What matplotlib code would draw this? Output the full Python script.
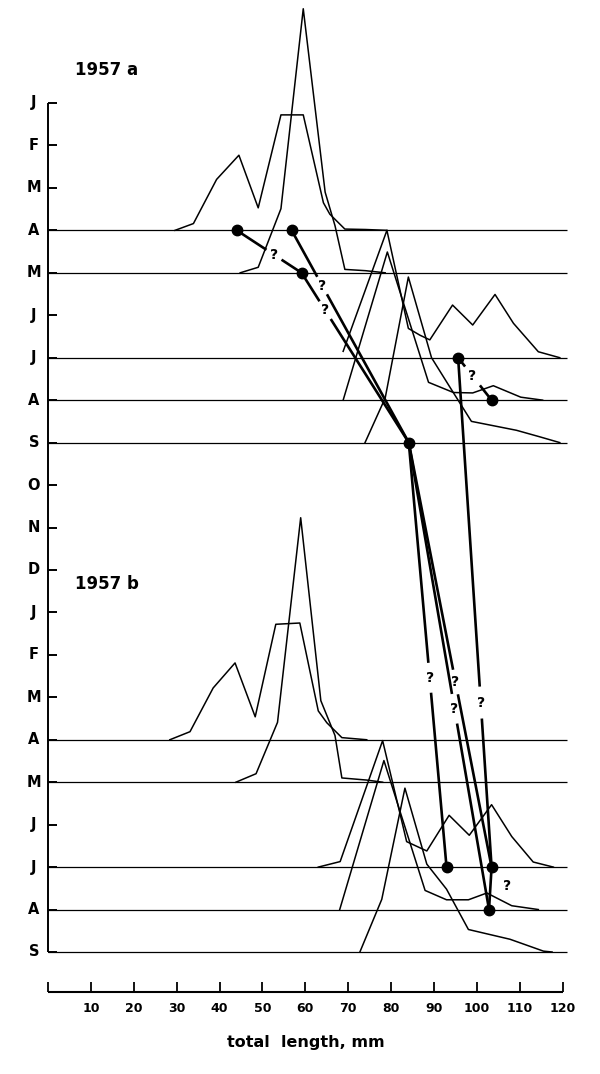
import numpy as np
import matplotlib.pyplot as plt

# month rows, top to bottom (1957a: J..S, then on into 1957b)
months = ['J', 'F', 'M', 'A', 'M', 'J', 'J', 'A', 'S', 'O', 'N',
          'D', 'J', 'F', 'M', 'A', 'M', 'J', 'J', 'A', 'S']
length_ticks = [10, 20, 30, 40, 50, 60, 70, 80, 90, 100, 110, 120]

# length-frequency curves: total length (mm) and height (in month rows)
# 1957a
a_apr_x = [29.6, 33.9, 39.3, 44.5, 49.0, 54.3, 59.5, 64.2, 65.7, 69.2, 74.0, 79.0]
a_apr_h = [0, 0.16, 1.20, 1.77, 0.53, 2.72, 2.72, 0.65, 0.38, 0.03, 0.02, 0]
a_may_x = [44.8, 49.0, 54.3, 59.5, 64.6, 66.9, 69.2, 74.0, 78.6]
a_may_h = [0, 0.13, 1.51, 6.22, 1.90, 1.11, 0.08, 0.05, 0]
a_jul_x = [68.8, 79.0, 84.0, 86.7, 89.0, 94.3, 99.0, 104.2, 108.5, 114.3, 119.3]
a_jul_h = [0.15, 3.00, 0.69, 0.53, 0.42, 1.24, 0.77, 1.49, 0.81, 0.14, 0]
a_aug_x = [68.8, 79.1, 88.7, 94.5, 99.0, 103.8, 110.2, 115.3]
a_aug_h = [0, 3.49, 0.42, 0.18, 0.17, 0.34, 0.07, 0]
a_sep_x = [73.9, 78.6, 84.0, 89.4, 93.6, 98.7, 109.2, 114.5, 119.3]
a_sep_h = [0, 1.05, 3.90, 2.00, 1.32, 0.50, 0.29, 0.14, 0]

# 1957b
b_apr_x = [28.4, 33.1, 38.5, 43.6, 48.3, 53.1, 58.7, 63.0, 65.0, 68.5, 74.3]
b_apr_h = [0, 0.19, 1.22, 1.81, 0.54, 2.72, 2.75, 0.68, 0.40, 0.05, 0]
b_may_x = [43.8, 48.5, 53.5, 58.9, 63.6, 66.9, 68.5, 74.3, 78.0]
b_may_h = [0, 0.20, 1.41, 6.23, 1.92, 1.10, 0.10, 0.05, 0]
b_jul_x = [63.0, 68.1, 78.0, 83.6, 88.3, 93.5, 98.2, 103.4, 108.1, 113.1, 117.8]
b_jul_h = [0, 0.13, 2.98, 0.60, 0.38, 1.22, 0.75, 1.47, 0.72, 0.12, 0]
b_aug_x = [68.0, 78.3, 87.9, 92.9, 98.0, 102.3, 108.1, 114.3]
b_aug_h = [0, 3.51, 0.45, 0.23, 0.23, 0.39, 0.09, 0]
b_sep_x = [72.7, 77.8, 83.2, 88.3, 92.9, 98.0, 107.7, 115.5, 117.5]
b_sep_h = [0, 1.24, 3.86, 2.07, 1.48, 0.53, 0.30, 0.02, 0]

# which month row each curve sits on
curves = [
    (3, a_apr_x, a_apr_h), (4, a_may_x, a_may_h), (6, a_jul_x, a_jul_h),
    (7, a_aug_x, a_aug_h), (8, a_sep_x, a_sep_h),
    (15, b_apr_x, b_apr_h), (16, b_may_x, b_may_h), (18, b_jul_x, b_jul_h),
    (19, b_aug_x, b_aug_h), (20, b_sep_x, b_sep_h),
]
baseline_rows = [3, 4, 6, 7, 8, 15, 16, 18, 19, 20]

# modes followed from month to month (length mm, month row)
dot_x = [44.0, 56.8, 59.1, 95.6, 103.4, 84.1, 92.9, 103.4, 102.8]
dot_row = [3, 3, 4, 6, 7, 8, 18, 18, 19]

# links between modes: from dot, to dot, where the "?" sits, half gap (px)
links = [
    (0, 2, 0.575, 9),
    (1, 5, 0.26, 10),
    (2, 5, 0.22, 10.5),
    (3, 4, 0.43, 12),
    (3, 7, 0.677, 16),
    (5, 6, 0.554, 15),
    (5, 8, 0.57, 15),
    (5, 7, 0.564, 12.5),
]

fig = plt.figure(figsize=(6, 10.74), dpi=100)
ax = fig.add_axes([0, 0, 1, 1])
# 0 mm at px 48 with 4.29 px/mm; first month row at px 103, 42.45 px per row
ax.set_xlim(-48 / 4.29, (600 - 48) / 4.29)
ax.set_ylim((1074 - 103) / 42.45, -103 / 42.45)
ax.axis('off')

# baselines and curves
ax.hlines(baseline_rows, 0, 121, color='black', lw=0.9)
for row, xs, hs in curves:
    ax.plot(xs, row - np.array(hs), color='black', lw=1.1)

# month axis
ax.vlines(0, 0, len(months) - 1, color='black', lw=1.4)
ax.hlines(range(len(months)), 0, 2.2, color='black', lw=1.4)
for i, m in enumerate(months):
    ax.text(-3.3, i, m, ha='center', va='center', fontsize=10.5, fontweight='bold')

ax.text(6.3, -0.77, '1957 a', ha='left', va='center', fontsize=12, fontweight='bold')
ax.text(6.3, 11.33, '1957 b', ha='left', va='center', fontsize=12, fontweight='bold')

# length axis at the bottom
y_ax = 20.94
ax.hlines(y_ax, 0, 120, color='black', lw=1.5)
ax.vlines([0] + length_ticks, y_ax - 0.24, y_ax, color='black', lw=1.3)
for t in length_ticks:
    ax.text(t, y_ax + 0.38, str(t), ha='center', va='center', fontsize=9, fontweight='bold')
ax.text(60, y_ax + 1.2, 'total  length, mm', ha='center', va='center',
        fontsize=11.5, fontweight='bold')


# link lines broken by a "?"
def q_line(i0, i1, f, half_gap):
    x0, r0, x1, r1 = dot_x[i0], dot_row[i0], dot_x[i1], dot_row[i1]
    p0 = ax.transData.transform((x0, r0))
    p1 = ax.transData.transform((x1, r1))
    d = half_gap / np.hypot(*(p1 - p0))
    ax.plot([x0, x0 + (x1 - x0) * (f - d)], [r0, r0 + (r1 - r0) * (f - d)],
            color='black', lw=1.9, solid_capstyle='butt')
    ax.plot([x0 + (x1 - x0) * (f + d), x1], [r0 + (r1 - r0) * (f + d), r1],
            color='black', lw=1.9, solid_capstyle='butt')
    ax.text(x0 + (x1 - x0) * f, r0 + (r1 - r0) * f, '?', ha='center', va='center',
            fontsize=10, fontweight='bold')


for i0, i1, f, g in links:
    q_line(i0, i1, f, g)

# short July -> August link in 1957b, "?" beside it
ax.plot([dot_x[7], dot_x[8]], [dot_row[7], dot_row[8]], color='black', lw=1.9)
ax.annotate('?', ((dot_x[7] + dot_x[8]) / 2, (dot_row[7] + dot_row[8]) / 2),
            xytext=(12, 2), textcoords='offset points', ha='center', va='center',
            fontsize=10, fontweight='bold')

ax.plot(dot_x, dot_row, 'o', color='black', ms=7.5, zorder=5)

fig.savefig('out.png', dpi=100)
